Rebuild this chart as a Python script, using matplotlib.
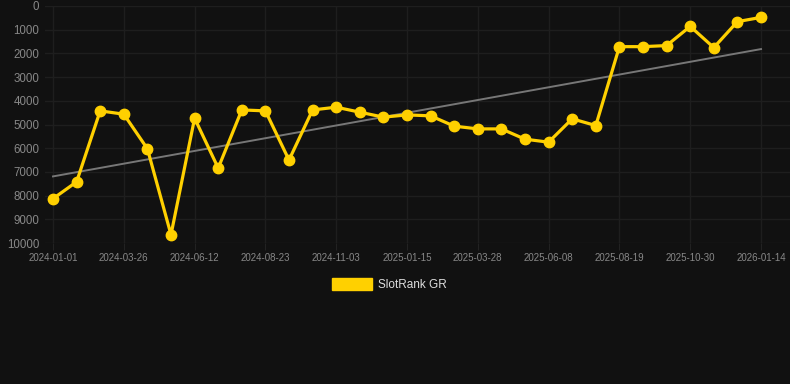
import numpy as np
import matplotlib
matplotlib.use("Agg")
import matplotlib.pyplot as plt
from matplotlib.patches import Rectangle

tick_labels = ["2024-01-01", "2024-03-26", "2024-06-12", "2024-08-23", "2024-11-03",
               "2025-01-15", "2025-03-28", "2025-06-08", "2025-08-19", "2025-10-30",
               "2026-01-14"]
ranks = [8130, 7420, 4425, 4565, 6025, 9650, 4735, 6840, 4385, 4425, 6500,
         4385, 4270, 4480, 4690, 4595, 4635, 5070, 5185, 5185, 5620, 5745,
         4760, 5045, 1715, 1715, 1670, 860, 1755, 660, 480]
series_name = "SlotRank GR"

bg = "#111111"
fig = plt.figure(figsize=(7.9, 3.84), dpi=100, facecolor=bg)
ax = fig.add_axes([45/790, 1-243/384, 1-45/790, (243-6)/384])
ax.set_facecolor(bg)

x = np.arange(len(ranks))
coef = np.polyfit(x, ranks, 1)
ax.plot(x, np.polyval(coef, x), color="#777777", lw=1.4, zorder=2)
ax.plot(x, ranks, color="#FFD000", lw=2.3, marker="o", markersize=7.5,
        zorder=3, clip_on=False)

ax.set_ylim(10000, 0)
ax.set_yticks(np.arange(0, 10001, 1000))
ax.set_xlim(-(53-45)/23.6, (790-53)/23.6)
ax.set_xticks(x[::3])
ax.set_xticklabels(tick_labels)

for s in ax.spines.values():
    s.set_visible(False)
ax.grid(True, color="#1e1e1e", lw=1.0, zorder=0)
ax.tick_params(axis="y", length=0, pad=4, labelsize=8.3, labelcolor="#888888")
ax.tick_params(axis="x", length=5, color="#222222", pad=2, labelsize=7,
               labelcolor="#888888")
for lab in ax.get_xticklabels() + ax.get_yticklabels():
    lab.set_family(["Liberation Sans", "DejaVu Sans"])

fig.patches.append(Rectangle((332/790, 1-290/384), 40/790, 12/384,
                             transform=fig.transFigure, color="#FFD000"))
fig.text(378/790, 1-284.5/384, series_name, color="#dddddd", fontsize=8.5,
         va="center", ha="left", family=["Liberation Sans", "DejaVu Sans"])

fig.savefig("out.png", dpi=100, facecolor=bg)
